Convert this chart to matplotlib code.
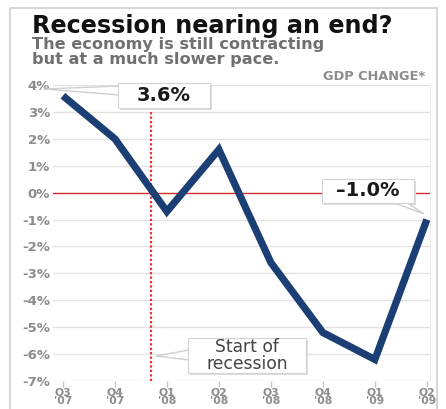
import matplotlib
matplotlib.use("Agg")
import matplotlib.pyplot as plt
from matplotlib.patches import Rectangle, Polygon

plt.rcParams['font.family'] = ['DejaVu Sans']

quarters = ["Q3\n'07", "Q4\n'07", "Q1\n'08", "Q2\n'08", "Q3\n'08", "Q4\n'08", "Q1\n'09", "Q2\n'09"]
gdp_change = [3.6, 2.0, -0.7, 1.6, -2.6, -5.2, -6.2, -1.0]
y_ticks = [4, 3, 2, 1, 0, -1, -2, -3, -4, -5, -6, -7]
y_labels = ["4%", "3%", "2%", "1%", "0%", "-1%", "-2%", "-3%", "-4%", "-5%", "-6%", "-7%"]
recession_start = 1.7

W, H = 446, 409
fig = plt.figure(figsize=(W / 100, H / 100), dpi=100)
fig.patch.set_facecolor('white')


def f(px, py):
    return (px / W, 1 - py / H)


# outer frame
fig.add_artist(Rectangle((10 / W, -0.02), (437 - 10) / W, 1 - 8 / H + 0.02,
                         transform=fig.transFigure, fill=False, edgecolor='#cfcfcf', lw=1.2))

ax = fig.add_axes([53 / W, 1 - 381 / H, (430 - 53) / W, (381 - 85) / H])
x = list(range(len(quarters)))
ax.set_xlim(-0.19, 7.06)
ax.set_ylim(-7, 4)

for t in y_ticks:
    if t == 0:
        ax.axhline(t, color='#d42a2a', lw=1.0, zorder=1)
    else:
        ax.axhline(t, color='#e2e2e2', lw=1.0, zorder=0)

ax.axvline(recession_start, color='#e03030', lw=1.6, ls=(0, (1, 1)), zorder=1)

ax.plot(x, gdp_change, color='#1b3f74', lw=5.2, solid_joinstyle='miter',
        solid_capstyle='butt', zorder=3)

for name, s in ax.spines.items():
    s.set_visible(name == 'right')
ax.spines['right'].set_color('#ececec')
ax.set_yticks(y_ticks)
ax.set_yticklabels(y_labels)
ax.set_xticks(x)
ax.set_xticklabels(quarters, linespacing=0.8)
ax.tick_params(axis='y', length=0, pad=2, labelsize=9.5, labelcolor='#8c8c8c')
ax.tick_params(axis='x', length=4.5, width=1, color='#c4c4c4', pad=0, labelsize=7.8,
               labelcolor='#8c8c8c')
for lab in ax.get_yticklabels() + ax.get_xticklabels():
    lab.set_fontweight('bold')

# Titles
fig.text(*f(32, 33), "Recession nearing an end?", fontsize=17.2, fontweight='bold',
         color='#111111', va='baseline', ha='left')
fig.text(*f(32, 49), "The economy is still contracting", fontsize=11.6, fontweight='bold',
         color='#707070', va='baseline', ha='left')
fig.text(*f(32, 64), "but at a much slower pace.", fontsize=11.6, fontweight='bold',
         color='#707070', va='baseline', ha='left')
fig.text(*f(425, 80), "GDP CHANGE*", fontsize=9.3, fontweight='bold',
         color='#8c8c8c', va='baseline', ha='right')


def callout(x0, y0, x1, y1, text, tail, fontsize, color, bold=True):
    fig.add_artist(Rectangle(f(x0 + 2, y1 + 2), (x1 - x0) / W, (y1 - y0) / H,
                             transform=fig.transFigure, facecolor='#dcdcdc',
                             edgecolor='none', zorder=10))
    fig.add_artist(Polygon([f(*p) for p in tail], closed=True, transform=fig.transFigure,
                           facecolor='white', edgecolor='#cfcfcf', lw=1.0, zorder=10.5))
    fig.add_artist(Rectangle(f(x0, y1), (x1 - x0) / W, (y1 - y0) / H,
                             transform=fig.transFigure, facecolor='white',
                             edgecolor='#d4d4d4', lw=0.8, zorder=11))
    cx, cy = f((x0 + x1) / 2, (y0 + y1) / 2)
    fig.text(cx, cy, text, fontsize=fontsize, fontweight='bold' if bold else 'normal',
             color=color, ha='center', va='center', zorder=12, linespacing=0.95)


callout(118, 83, 210, 108, "3.6%", [(119, 86), (45, 89), (119, 95)], 14, '#1a1a1a')
callout(322, 179, 414, 203, "\u20131.0%", [(392, 202), (424, 214), (406, 202)], 14, '#1a1a1a')
callout(188, 338, 306, 373, "Start of\nrecession", [(189, 350), (156, 356), (189, 360)],
        12.3, '#444444', bold=False)

fig.savefig("out.png", dpi=100, facecolor='white')
